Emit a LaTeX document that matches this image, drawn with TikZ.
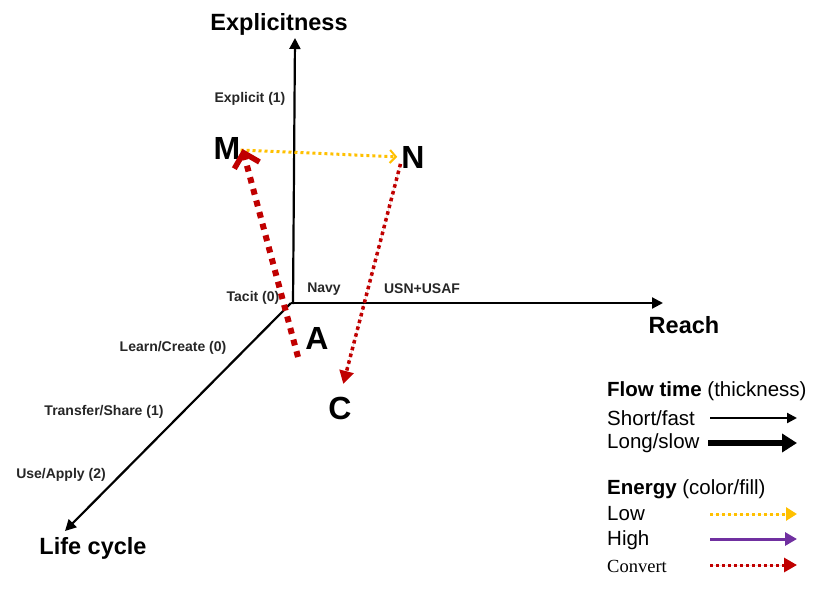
\documentclass[tikz,border=0pt]{standalone}
\usepackage{fontspec}
\setmainfont{Liberation Sans}
\newfontfamily\timesface{Liberation Serif}
\usetikzlibrary{arrows.meta,positioning}

\definecolor{lowc}{RGB}{255,192,0}
\definecolor{highc}{RGB}{112,48,160}
\definecolor{convc}{RGB}{192,0,0}

\begin{document}
\begin{tikzpicture}[x=1pt, y=-1pt,
  axis/.style={-{Triangle[length=11pt,width=11pt]}, line width=2.2pt},
  tick/.style={font=\fontsize{14}{16}\selectfont\bfseries, text=black!85, inner sep=0pt},
  title/.style={font=\fontsize{23.5}{26}\selectfont\bfseries, inner sep=0pt},
  point/.style={font=\fontsize{32}{34}\selectfont\bfseries, inner sep=0pt},
  legend/.style={font=\fontsize{20.5}{22}\selectfont, anchor=west, inner sep=0pt},
  low/.style={-{Straight Barb[length=6pt,width=13pt,line width=2pt]}, draw=lowc, line width=3pt, dash pattern=on 3pt off 3pt},
  high/.style={-{Triangle[length=12pt,width=13pt]}, draw=highc, fill=highc, line width=3pt},
  conv/.style={-{Triangle[length=13pt,width=14pt]}, draw=convc, fill=convc, line width=3.5pt, dash pattern=on 3.5pt off 3.5pt},
  convthick/.style={-{Straight Barb[length=13pt,width=26pt,line width=5.5pt]}, draw=convc, line width=6pt, dash pattern=on 6pt off 6pt},
  flow/.style={-{Triangle[length=10pt,width=10pt]}, line width=2.2pt}
]
\useasboundingbox (0,0) rectangle (819,605);

% axes
\coordinate (o) at (291,303);
\coordinate (ex) at (295,38);
\coordinate (rx) at (663,303);
\coordinate (lx) at (65,531);
\draw[axis] (293,304) -- (ex);
\draw[axis] (o) -- (rx);
\draw[axis] (o) -- (lx);

\node[title] (expl) at (279,24) {Explicitness};
\node[title] (reach) at (684,325) {Reach};
\node[title] (life) at (93,548) {Life cycle};

\node[tick] (t1) at (250,99) {Explicit (1)};
\node[tick] (t0) at (253,298) {Tacit (0)};
\node[tick] (navy) at (324,289) {Navy};
\node[tick] (usn) at (422,289) {USN+USAF};
\node[tick] (l0) at (173,348) {Learn/Create (0)};
\node[tick] (l1) at (104,412) {Transfer/Share (1)};
\node[tick] (l2) at (61,475) {Use/Apply (2)};

% points
\node[point] (m) at (227,148) {M};
\node[point] (n) at (413,157) {N};
\node[point] (a) at (317,338) {A};
\node[point] (c) at (340,408) {C};
\coordinate (tailA) at (298,357);

\draw[low, shorten >=4pt] ([yshift=-2pt]m.east) -- (n.west);
\draw[convthick] (tailA) -- ([xshift=2pt,yshift=-1pt]m.east);
\draw[conv, shorten <=3pt, shorten >=13pt] ([yshift=-4pt]n.west) -- (c.north);

% legend
\node[legend] (ft) at (607,391) {\textbf{Flow time} (thickness)};
\node[legend] (sf) at (607,418) {Short/fast};
\node[legend] (ls) at (607,443) {Long/slow};
\node[legend] (en) at (607,489) {\textbf{Energy} (color/fill)};
\node[legend] (lo) at (607,514) {Low};
\node[legend] (hi) at (607,540) {High};
\node[legend, font=\fontsize{18.5}{20}\selectfont\timesface] (cv) at (607,566) {Convert};

\coordinate (sf0) at (710,418);
\coordinate (sf1) at (797,418);
\coordinate (ls0) at (708,443);
\coordinate (ls1) at (797,443);
\coordinate (lo0) at (710,514);
\coordinate (lo1) at (797,514);
\coordinate (hi0) at (710,539);
\coordinate (hi1) at (797,539);
\coordinate (cv0) at (710,565);
\coordinate (cv1) at (797,565);

\draw[flow] (sf0) -- (sf1);
\draw[flow, line width=6pt, -{Triangle[length=15pt,width=18pt]}] (ls0) -- (ls1);
\draw[low, -{Triangle[length=11pt,width=13pt]}, fill=lowc] (lo0) -- (lo1);
\draw[high] (hi0) -- (hi1);
\draw[conv, line width=3pt, dash pattern=on 3pt off 3pt] (cv0) -- (cv1);
\end{tikzpicture}
\end{document}
